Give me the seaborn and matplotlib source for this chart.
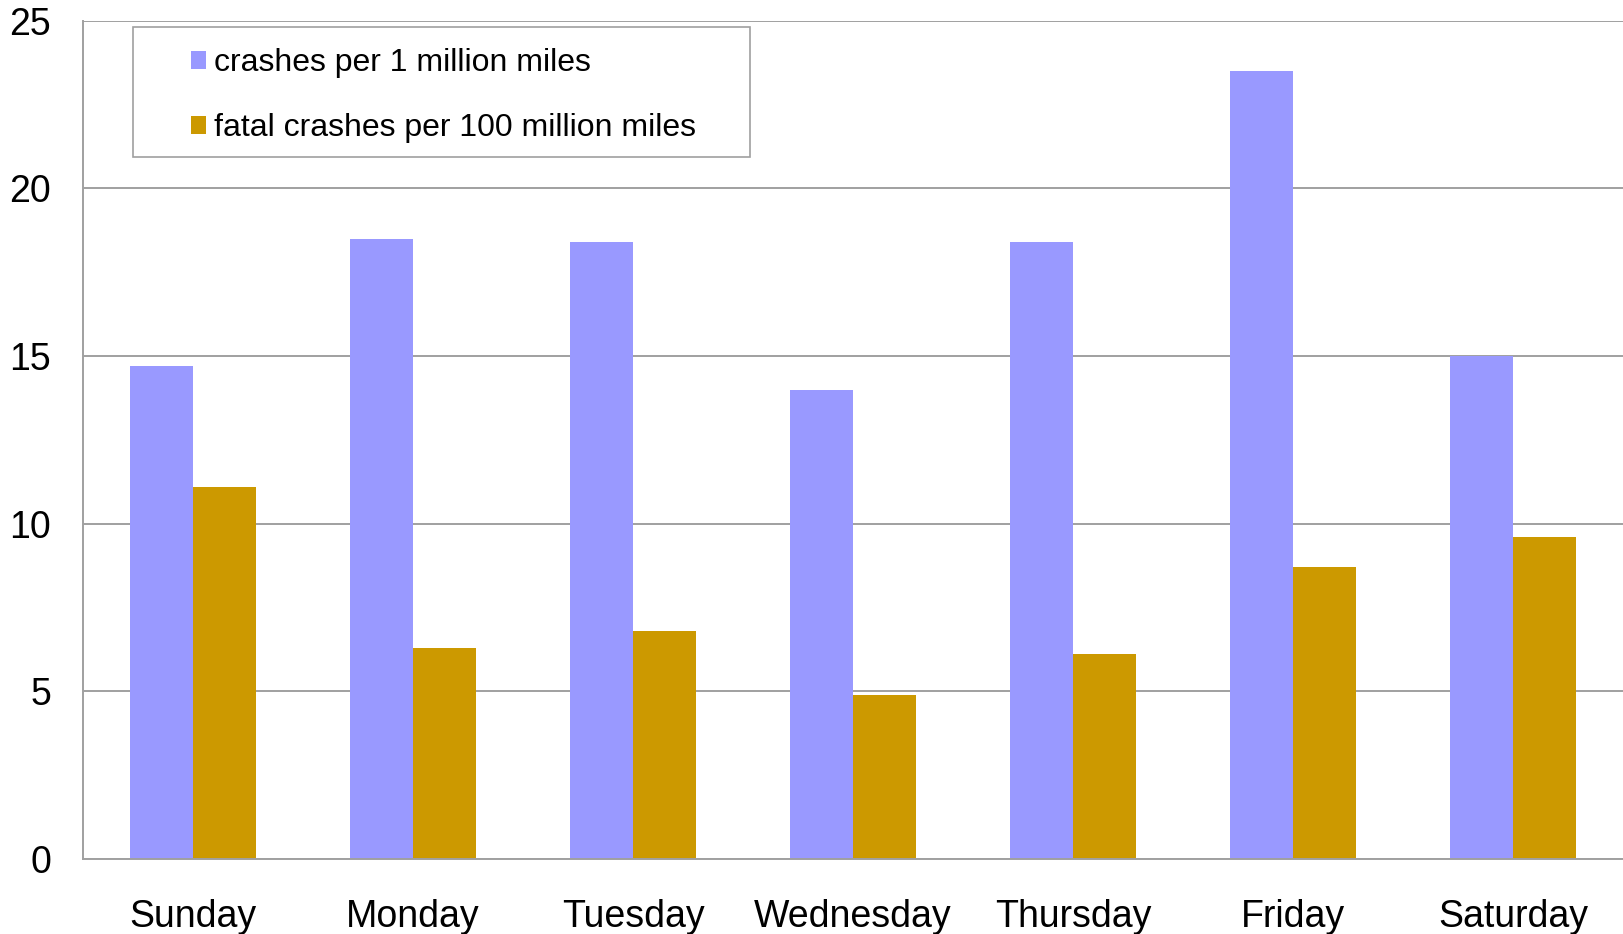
import matplotlib
matplotlib.use("Agg")
import matplotlib.pyplot as plt
from matplotlib.patches import Rectangle
import seaborn as sns
import pandas as pd

days = ["Sunday", "Monday", "Tuesday", "Wednesday", "Thursday", "Friday", "Saturday"]
crashes_per_1m = [14.7, 18.5, 18.4, 14.0, 18.4, 23.5, 15.0]
fatal_per_100m = [11.1, 6.3, 6.8, 4.9, 6.1, 8.7, 9.6]
series_names = ["crashes per 1 million miles", "fatal crashes per 100 million miles"]
series_colors = ["#9999FF", "#CC9900"]
y_ticks = [0, 5, 10, 15, 20, 25]

df = pd.DataFrame({
    "day": days * 2,
    "value": crashes_per_1m + fatal_per_100m,
    "series": [series_names[0]] * len(days) + [series_names[1]] * len(days),
})

sns.set_theme(style="white")
plt.rcParams["font.family"] = ["Liberation Sans", "DejaVu Sans"]

W, H = 1623, 934
fig = plt.figure(figsize=(W / 100, H / 100), dpi=100)
ax = fig.add_axes([0.0511, 0.0803, 0.9489, 0.8975])

sns.barplot(data=df, x="day", y="value", hue="series", order=days,
            hue_order=series_names, palette=series_colors, width=0.57,
            saturation=1, linewidth=0, ax=ax)

ax.set_ylim(0, 25)
ax.set_yticks(y_ticks)
ax.set_xlim(-0.5, 6.5)
ax.set_xlabel("")
ax.set_ylabel("")
ax.yaxis.grid(True, color="#A0A0A0", linewidth=1.4)
ax.set_axisbelow(True)
for side in ["top", "right"]:
    ax.spines[side].set_visible(False)
for side in ["left", "bottom"]:
    ax.spines[side].set_color("#A0A0A0")
    ax.spines[side].set_linewidth(1.4)

ax.tick_params(axis="y", length=0, pad=23, labelsize=27, labelcolor="black")
ax.tick_params(axis="x", length=0, pad=29, labelsize=27, labelcolor="black")

# legend entries, with a separate wide-padded frame behind them
leg = ax.legend(loc="upper left", bbox_to_anchor=(190.5 / W, 1 - 48 / H),
                bbox_transform=fig.transFigure, fontsize=23, frameon=False,
                borderpad=0, labelspacing=1.11, handlelength=0.5,
                handleheight=0.5, handletextpad=0.22, borderaxespad=0)
for t in leg.get_texts():
    t.set_color("black")

frame = Rectangle((132.5 / W, 1 - 157 / H), (749.5 - 132.5) / W, (157 - 27) / H,
                  transform=fig.transFigure, facecolor="white",
                  edgecolor="#A0A0A0", linewidth=1.2, zorder=4, clip_on=False)
ax.add_patch(frame)

fig.savefig("out.png", dpi=100)
